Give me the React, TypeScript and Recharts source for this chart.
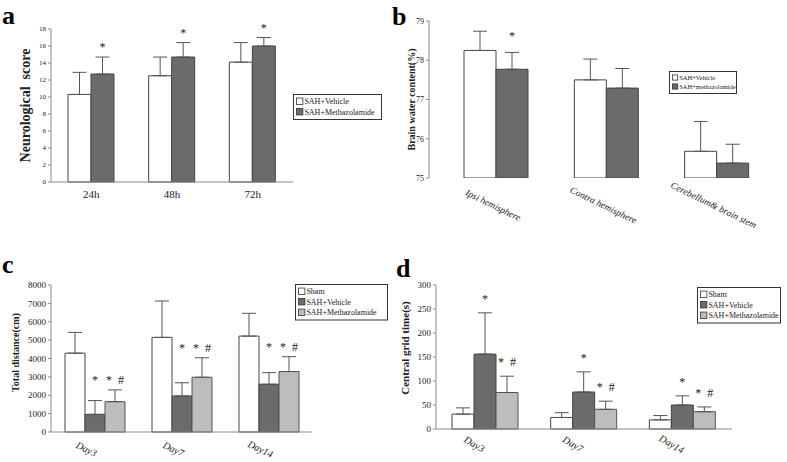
import React from 'react';
import { BarChart, Bar, XAxis, YAxis, ErrorBar, LabelList } from 'recharts';

const FONT = '"Liberation Serif", "Times New Roman", serif';
const AXIS = '#8a8a8a';
const TXT = '#222';
const WHITE = '#ffffff';
const DARK = '#6b6b6b';
const LIGHT = '#bdbdbd';

// panel a - neurological score
const timesA = ['24h', '48h', '72h'];
const vehicleA = [10.3, 12.5, 14.1];
const vehicleErrA = [2.6, 2.2, 2.3];
const methaA = [12.7, 14.7, 16.0];
const methaErrA = [2.0, 1.7, 1.0];
const marksA = ['*', '*', '*'];
const ticksA = [0, 2, 4, 6, 8, 10, 12, 14, 16, 18];

// panel b - brain water content
const regionsB = ['Ipsi hemisphere', 'Contra hemisphere', 'Cerebellum& brain stem'];
const vehicleB = [78.25, 77.5, 75.68];
const vehicleErrB = [0.49, 0.53, 0.76];
const methaB = [77.77, 77.29, 75.38];
const methaErrB = [0.43, 0.5, 0.48];
const marksB = ['*', '', ''];
const ticksB = [75, 76, 77, 78, 79];

// panel c - total distance
const daysC = ['Day3', 'Day7', 'Day14'];
const shamC = [4290, 5150, 5220];
const shamErrC = [1130, 1980, 1240];
const vehicleC = [960, 1960, 2600];
const vehicleErrC = [750, 720, 630];
const methaC = [1650, 2980, 3290];
const methaErrC = [640, 1060, 810];
const vehMarksC = ['*', '*', '*'];
const methaMarksC = ['*  #', '*  #', '*  #'];
const ticksC = [0, 1000, 2000, 3000, 4000, 5000, 6000, 7000, 8000];

// panel d - central grid time
const daysD = ['Day3', 'Day7', 'Day14'];
const shamD = [31, 24, 19];
const shamErrD = [13, 10, 9];
const vehicleD = [156, 77, 50];
const vehicleErrD = [86, 42, 19];
const methaD = [76, 41, 36];
const methaErrD = [34, 17, 10];
const vehMarksD = ['*', '*', '*'];
const methaMarksD = ['*  #', '*  #', '*  #'];
const ticksD = [0, 50, 100, 150, 200, 250, 300];

const dataA = timesA.map((t, i) => ({
  t, veh: vehicleA[i], vehE: [0, vehicleErrA[i]], met: methaA[i], metE: [0, methaErrA[i]],
}));
const dataB = regionsB.map((t, i) => ({
  t, veh: vehicleB[i], vehE: [0, vehicleErrB[i]], met: methaB[i], metE: [0, methaErrB[i]],
}));
const dataC = daysC.map((t, i) => ({
  t, sham: shamC[i], shamE: [0, shamErrC[i]], veh: vehicleC[i], vehE: [0, vehicleErrC[i]],
  met: methaC[i], metE: [0, methaErrC[i]],
}));
const dataD = daysD.map((t, i) => ({
  t, sham: shamD[i], shamE: [0, shamErrD[i]], veh: vehicleD[i], vehE: [0, vehicleErrD[i]],
  met: methaD[i], metE: [0, methaErrD[i]],
}));

// star / hash markers, placed a few px over the given data level
const mark = (values: number[], levels: number[], marks: string[], base: number, gap: number, fs: number) =>
  (props: any) => {
    const vb = props.viewBox ?? props;
    const i = props.index;
    const text = marks[i];
    if (!text || vb == null) return null;
    const bottom = vb.y + vb.height;
    const k = vb.height / (values[i] - base);
    const yTop = bottom - (levels[i] - base) * k;
    return (
      <text x={vb.x + vb.width / 2} y={yTop - gap} textAnchor="middle" fontSize={fs}
        fontFamily={FONT} fill={TXT} style={{ whiteSpace: 'pre' }}>{text}</text>
    );
  };

const slantTick = (dx: number, dy: number, angle: number, fs: number) => (p: any) => (
  <g transform={`translate(${p.x + dx},${p.y + dy}) rotate(${angle})`}>
    <text textAnchor="middle" dy="0.35em" fontSize={fs} fontStyle="italic" fontFamily={FONT} fill={TXT}>
      {p.payload.value}
    </text>
  </g>
);

// rotated axis title, x = centre of the text column, dyc = shift from the plot's middle
const yLabel = (value: string, x: number, dyc: number, fs: number) => ({
  content: (p: any) => {
    const vb = p.viewBox;
    const cy = vb.y + vb.height / 2 + dyc;
    return (
      <text transform={`translate(${x},${cy}) rotate(-90)`} textAnchor="middle" dy="0.35em"
        fontSize={fs} fontWeight={700} fontFamily={FONT} fill={TXT} style={{ whiteSpace: 'pre' }}>
        {value}
      </text>
    );
  },
});

const tickFont = (fs: number) => ({ fontSize: fs, fontFamily: FONT, fill: TXT });
const err = (k: string) => <ErrorBar dataKey={k} width={7} stroke="#555" strokeWidth={1} direction="y" />;

const sum = (a: number[], b: number[]) => a.map((v, i) => v + b[i]);
const groupTopC = sum(vehicleC, vehicleErrC).map((v, i) => Math.max(v, methaC[i] + methaErrC[i]));

type LegendRow = { label: string; fill: string };
const Legend2 = ({ x, y, w, rowH, fs, rows }: { x: number; y: number; w: number; rowH: number; fs: number; rows: LegendRow[] }) => (
  <g>
    <rect x={x + 0.5} y={y + 0.5} width={w} height={rows.length * rowH + 4} fill="#fff" stroke="#333" />
    {rows.map((r, i) => {
      const cy = y + 2 + rowH * i + rowH / 2;
      const s = fs * 0.8;
      return (
        <g key={r.label}>
          <rect x={x + 3.5} y={cy - s / 2} width={s} height={s} fill={r.fill} stroke="#333" strokeWidth={0.8} />
          <text x={x + 4 + s + 1} y={cy} dy="0.35em" fontSize={fs} fontFamily={FONT} fill={TXT}>{r.label}</text>
        </g>
      );
    })}
  </g>
);

const box = (left: number, top: number): React.CSSProperties => ({ position: 'absolute', left, top });

export default function App() {
  return (
    <div style={{ position: 'absolute', left: 0, top: 0, width: 787, height: 462, background: '#fff', overflow: 'hidden' }}>
      <div style={box(0, 0)}>
        <BarChart width={390} height={230} data={dataA} margin={{ top: 29, right: 97, bottom: 18, left: 0 }} barGap={0}>
          <XAxis dataKey="t" height={30} stroke={AXIS} tickLine={false} tickSize={0} tickMargin={8} tick={tickFont(11)} />
          <YAxis width={51} domain={[0, 18]} ticks={ticksA} stroke={AXIS} tickSize={3} tick={tickFont(7)}
            label={yLabel('Neurological  score', 25, 0, 14)} />
          <Bar dataKey="veh" fill={WHITE} stroke="#444" barSize={23} isAnimationActive={false}>
            {err('vehE')}
          </Bar>
          <Bar dataKey="met" fill={DARK} stroke="#444" barSize={23} isAnimationActive={false}>
            {err('metE')}
            <LabelList dataKey="met" content={mark(methaA, sum(methaA, methaErrA), marksA, 0, 6, 12)} />
          </Bar>
        </BarChart>
      </div>

      <div style={box(390, 0)}>
        <BarChart width={397} height={230} data={dataB} margin={{ top: 21, right: 15, bottom: 22, left: 0 }} barGap={0}>
          <XAxis dataKey="t" height={30} axisLine={false} tickLine={false} tickSize={0} tickMargin={0}
            padding={{ left: 12, right: 0 }} interval={0} tick={slantTick(-3, 27, 26, 9.5)} />
          <YAxis width={39} domain={[75, 79]} ticks={ticksB} stroke={AXIS} tickSize={3} tick={tickFont(8)}
            allowDataOverflow label={yLabel('Brain water content(%)', 21, 0, 10)} />
          <Bar dataKey="veh" fill={WHITE} stroke="#444" barSize={32} isAnimationActive={false}>
            {err('vehE')}
          </Bar>
          <Bar dataKey="met" fill={DARK} stroke="#444" barSize={32} isAnimationActive={false}>
            {err('metE')}
            <LabelList dataKey="met" content={mark(methaB, sum(methaB, methaErrB), marksB, 75, 12, 12)} />
          </Bar>
        </BarChart>
      </div>

      <div style={box(0, 230)}>
        <BarChart width={390} height={232} data={dataC} margin={{ top: 55, right: 78, bottom: 0, left: 0 }} barGap={0}>
          <XAxis dataKey="t" height={30} stroke={AXIS} tickLine={false} tickSize={0} tickMargin={0}
            interval={0} tick={slantTick(-8, 17, 25, 10)} />
          <YAxis width={51} domain={[0, 8000]} ticks={ticksC} stroke={AXIS} tickSize={3} tick={tickFont(9)}
            label={yLabel('Total distance(cm)', 15, -6, 10)} />
          <Bar dataKey="sham" fill={WHITE} stroke="#444" barSize={20} isAnimationActive={false}>
            {err('shamE')}
          </Bar>
          <Bar dataKey="veh" fill={DARK} stroke="#444" barSize={20} isAnimationActive={false}>
            {err('vehE')}
            <LabelList dataKey="veh" content={mark(vehicleC, groupTopC, vehMarksC, 0, 6, 12)} />
          </Bar>
          <Bar dataKey="met" fill={LIGHT} stroke="#555" barSize={20} isAnimationActive={false}>
            {err('metE')}
            <LabelList dataKey="met" content={mark(methaC, groupTopC, methaMarksC, 0, 6, 12)} />
          </Bar>
        </BarChart>
      </div>

      <div style={box(390, 230)}>
        <BarChart width={397} height={232} data={dataD} margin={{ top: 55, right: 55, bottom: 3, left: 0 }} barGap={0}>
          <XAxis dataKey="t" height={30} stroke={AXIS} tickLine={false} tickSize={0} tickMargin={0}
            interval={0} tick={slantTick(-11, 15, 30, 10)} />
          <YAxis width={46} domain={[0, 300]} ticks={ticksD} stroke={AXIS} tickSize={3} tick={tickFont(9)}
            label={yLabel('Central grid time(s)', 15, -9, 11)} />
          <Bar dataKey="sham" fill={WHITE} stroke="#444" barSize={22} isAnimationActive={false}>
            {err('shamE')}
          </Bar>
          <Bar dataKey="veh" fill={DARK} stroke="#444" barSize={22} isAnimationActive={false}>
            {err('vehE')}
            <LabelList dataKey="veh" content={mark(vehicleD, sum(vehicleD, vehicleErrD), vehMarksD, 0, 10, 12)} />
          </Bar>
          <Bar dataKey="met" fill={LIGHT} stroke="#555" barSize={22} isAnimationActive={false}>
            {err('metE')}
            <LabelList dataKey="met" content={mark(methaD, sum(methaD, methaErrD), methaMarksD, 0, 10, 12)} />
          </Bar>
        </BarChart>
      </div>

      <svg width={787} height={462} style={{ position: 'absolute', left: 0, top: 0, pointerEvents: 'none' }}>
        <g fontFamily={FONT} fontWeight={700} fontSize={26} fill="#000">
          <text x={2} y={24}>a</text>
          <text x={392} y={25}>b</text>
          <text x={2} y={273}>c</text>
          <text x={396} y={277}>d</text>
        </g>
        <Legend2 x={293} y={94} w={88} rowH={10.5} fs={8}
          rows={[{ label: 'SAH+Vehicle', fill: WHITE }, { label: 'SAH+Methazolamide', fill: DARK }]} />
        <Legend2 x={669} y={71} w={67} rowH={9} fs={6.5}
          rows={[{ label: 'SAH+Vehicle', fill: WHITE }, { label: 'SAH+methazolamide', fill: DARK }]} />
        <Legend2 x={295} y={284} w={92} rowH={10.5} fs={8}
          rows={[{ label: 'Sham', fill: WHITE }, { label: 'SAH+Vehicle', fill: DARK }, { label: 'SAH+Methazolamide', fill: LIGHT }]} />
        <Legend2 x={697} y={287} w={83} rowH={10.5} fs={8}
          rows={[{ label: 'Sham', fill: WHITE }, { label: 'SAH+Vehicle', fill: DARK }, { label: 'SAH+Methazolamide', fill: LIGHT }]} />
      </svg>
    </div>
  );
}
